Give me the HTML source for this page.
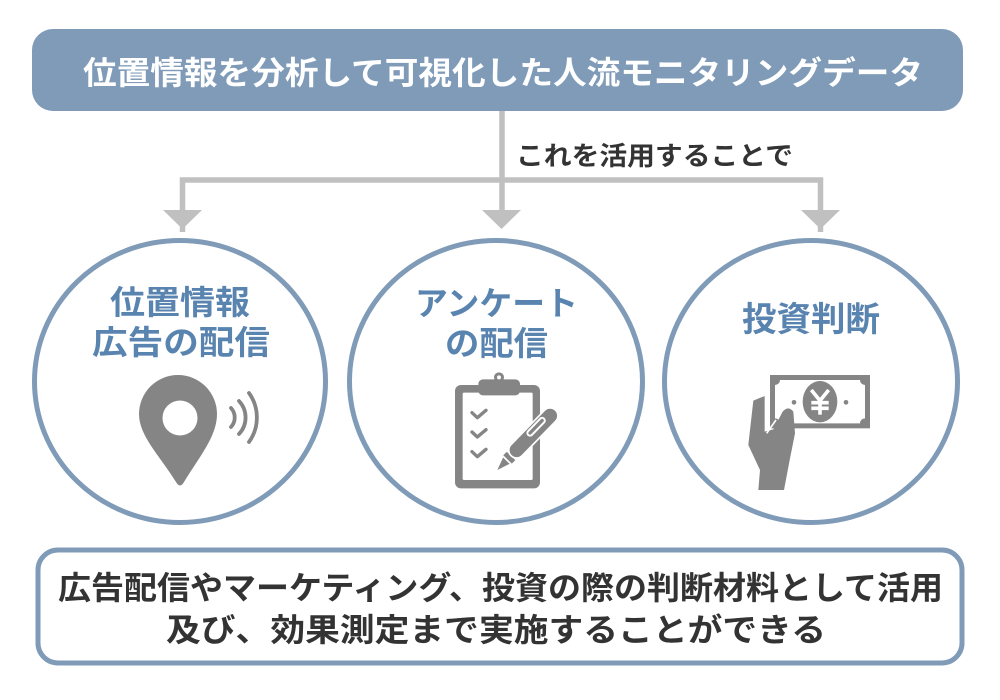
<!DOCTYPE html>
<html><head><meta charset="utf-8"><style>
html,body{margin:0;padding:0;background:#fff;}
svg{display:block;}
text{font-family:"Liberation Sans","Noto Sans CJK JP",sans-serif;font-weight:700;}
</style></head><body>
<svg width="1000" height="700" viewBox="0 0 1000 700" xmlns="http://www.w3.org/2000/svg">
<rect x="0" y="0" width="1000" height="700" fill="#fff"/>
<!-- top box -->
<rect x="32" y="29" width="931" height="82" rx="21" fill="#7f9bb8"/>
<text x="503" y="84" font-size="32" fill="#fff" text-anchor="middle" textLength="840" lengthAdjust="spacingAndGlyphs">位置情報を分析して可視化した人流モニタリングデータ</text>
<!-- connectors -->
<g stroke="#c0c0c0" stroke-width="5.5" fill="none">
<line x1="502" y1="111" x2="502" y2="212"/>
<polyline points="182.5,212 182.5,180 820.5,180 820.5,212"/>
<line x1="182.5" y1="222" x2="182.5" y2="232"/>
<line x1="820.5" y1="222" x2="820.5" y2="232"/>
</g>
<g fill="#c0c0c0">
<polygon points="163,210 202,210 182.5,229"/>
<polygon points="482,210 521,210 501.5,229"/>
<polygon points="801,210 840,210 820.5,229"/>
</g>
<text x="516" y="165" font-size="26" fill="#333" textLength="277" lengthAdjust="spacingAndGlyphs">これを活用することで</text>
<!-- circles -->
<g fill="#fff" stroke="#7f9bb8" stroke-width="5">
<ellipse cx="180" cy="381.5" rx="145.5" ry="141"/>
<ellipse cx="496" cy="381.5" rx="146.5" ry="141"/>
<ellipse cx="811" cy="381.5" rx="146.5" ry="141"/>
</g>
<g fill="#5a84b0">
<text x="180" y="314" font-size="33" text-anchor="middle" textLength="140" lengthAdjust="spacingAndGlyphs">位置情報</text>
<text x="181" y="354" font-size="33" text-anchor="middle" textLength="178" lengthAdjust="spacingAndGlyphs">広告の配信</text>
<text x="496.5" y="315" font-size="33" text-anchor="middle" textLength="163" lengthAdjust="spacingAndGlyphs">アンケート</text>
<text x="496.5" y="355" font-size="33" text-anchor="middle" textLength="103" lengthAdjust="spacingAndGlyphs">の配信</text>
<text x="811" y="331" font-size="34" text-anchor="middle" textLength="138" lengthAdjust="spacingAndGlyphs">投資判断</text>
</g>
<!-- pin icon -->
<path d="M139,414 A39 39 0 0 1 217,414 C217,436 200,456 184,482 Q180,489 176,482 C160,456 139,436 139,414 Z" fill="#858585"/>
<circle cx="180" cy="418" r="17.5" fill="#fff"/>
<g fill="none" stroke="#858585" stroke-width="3.8" stroke-linecap="round">
<path d="M231,408 A14 14 0 0 1 231,427"/>
<path d="M239,401 A24 24 0 0 1 239,434"/>
<path d="M249,393 A42 42 0 0 1 249,442"/>
</g>
<!-- clipboard icon -->
<g transform="translate(440,370) scale(0.33333)">
<rect x="45" y="45" width="255" height="310" rx="18" fill="#858585"/>
<rect x="68" y="68" width="210" height="262" rx="4" fill="#fff"/>
<rect x="115" y="28" width="125" height="48" rx="14" fill="#858585"/>
<circle cx="177" cy="22" r="15" fill="#858585"/>
<circle cx="177" cy="22" r="6" fill="#fff"/>
<g fill="none" stroke="#858585" stroke-width="10" stroke-linecap="round" stroke-linejoin="round">
<polyline points="96,128 112,143 138,121"/>
<polyline points="96,186 112,201 138,179"/>
<polyline points="96,245 112,260 138,238"/>
</g>
<g transform="translate(172,300) rotate(-45.8)" fill="#858585" stroke="#fff" stroke-width="10" paint-order="stroke">
<polygon points="0,0 40,-14 40,14"/>
<rect x="44" y="-18" width="15" height="36"/>
<rect x="62" y="-21" width="186" height="42" rx="21"/>
</g>
<g transform="translate(172,300) rotate(-45.8)">
<rect x="140" y="-15" width="68" height="16" rx="8" fill="none" stroke="#fff" stroke-width="6"/>
</g>
</g>
<!-- money icon -->
<g transform="translate(740,370) scale(0.33333)">
<rect x="90" y="15" width="300" height="160" fill="#858585"/>
<path d="M120,30 L360,30 A15 15 0 0 0 375,45 L375,145 A15 15 0 0 0 360,160 L120,160 A15 15 0 0 0 105,145 L105,45 A15 15 0 0 0 120,30 Z" fill="#fff"/>
<ellipse cx="240" cy="95" rx="52" ry="62" fill="#858585"/>
<circle cx="162" cy="97" r="7" fill="#858585"/>
<circle cx="318" cy="97" r="7" fill="#858585"/>
<g fill="none" stroke="#fff" stroke-width="11">
<polyline points="214,60 240,92 266,60"/>
<line x1="240" y1="92" x2="240" y2="134"/>
<line x1="214" y1="98" x2="266" y2="98"/>
<line x1="214" y1="115" x2="266" y2="115"/>
</g>
<path d="M40,92 L74,78 L74,185 L100,178 L128,125 Q145,105 160,125 L165,190 L150,265 L132,360 L55,360 L60,300 L25,225 L30,180 Z" fill="#858585"/>
<line x1="80" y1="190" x2="108" y2="150" stroke="#fff" stroke-width="5"/>
</g>
<!-- bottom box -->
<rect x="38" y="550" width="924" height="113" rx="20" fill="#fff" stroke="#7f9bb8" stroke-width="5"/>
<g fill="#333">
<text x="500.5" y="599" font-size="32" text-anchor="middle" textLength="885" lengthAdjust="spacingAndGlyphs">広告配信やマーケティング、投資の際の判断材料として活用</text>
<text x="496" y="641" font-size="32" text-anchor="middle" textLength="660" lengthAdjust="spacingAndGlyphs">及び、効果測定まで実施することができる</text>
</g>
</svg>
</body></html>
